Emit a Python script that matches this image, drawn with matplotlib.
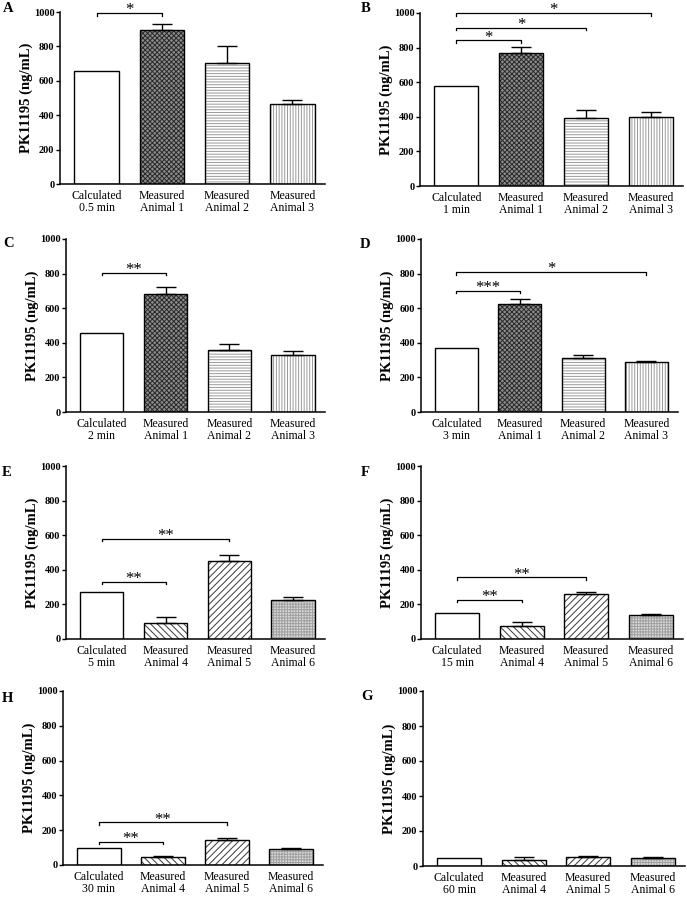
import matplotlib
matplotlib.use('Agg')
import matplotlib.pyplot as plt

# Data
panelLetters = ['A', 'B', 'C', 'D', 'E', 'F', 'H', 'G']
calcTimes = ['0.5 min', '1 min', '2 min', '3 min', '5 min', '15 min', '30 min', '60 min']
animalsTop = ['Animal 1', 'Animal 2', 'Animal 3']
animalsBottom = ['Animal 4', 'Animal 5', 'Animal 6']

meansA = [658, 897, 706, 466]
errA = [0, 31, 95, 25]
meansB = [579, 768, 392, 398]
errB = [0, 33, 48, 27]
meansC = [454, 683, 356, 327]
errC = [0, 42, 38, 27]
meansD = [369, 627, 313, 290]
errD = [0, 29, 15, 3]
meansE = [269, 94, 449, 226]
errE = [0, 31, 39, 16]
meansF = [150, 73, 259, 140]
errF = [0, 23, 14, 6]
meansH = [96, 48, 141, 94]
errH = [0, 4, 12, 4]
meansG = [46, 32, 51, 46]
errG = [0, 18, 6, 5]

# significance: (bar from, bar to, height, label)
sigA = [(0, 1, 994, '*')]
sigB = [(0, 1, 842, '*'), (0, 2, 915, '*'), (0, 3, 1000, '*')]
sigC = [(0, 1, 806, '**')]
sigD = [(0, 1, 701, '***'), (0, 3, 809, '*')]
sigE = [(0, 1, 332, '**'), (0, 2, 580, '**')]
sigF = [(0, 1, 226, '**'), (0, 2, 357, '**')]
sigH = [(0, 1, 134, '**'), (0, 2, 245, '**')]
sigG = []

allMeans = [meansA, meansB, meansC, meansD, meansE, meansF, meansH, meansG]
allErr = [errA, errB, errC, errD, errE, errF, errH, errG]
allSig = [sigA, sigB, sigC, sigD, sigE, sigF, sigH, sigG]

yTicks = [0, 200, 400, 600, 800, 1000]

# Axes boxes in pixels: left, right, top (1000), bottom (0)
W, H = 687, 898
boxes = [(60, 325, 12, 184), (420, 683, 13, 186),
         (66, 325, 239, 412), (421, 678, 239, 412),
         (66, 325, 466, 639), (421, 683, 466, 639),
         (63, 323, 691, 865), (423, 685, 691, 866)]
letterPos = [(3, 9), (361, 9), (3, 243), (360, 244),
             (2, 473), (361, 473), (2, 698), (361, 697)]

# bar styles: (facecolor, hatch, hatchcolor)
stylesTop = [('white', '', 'black'), ('#8c8c8c', 'xxxxxxx', '#2a2a2a'),
             ('white', '------', '#9a9a9a'), ('white', '||||||', '#9a9a9a')]
stylesBottom = [('white', '', 'black'), ('white', '\\\\\\\\\\', '#3a3a3a'),
                ('white', '/////', '#3a3a3a'), ('#d8d8d8', '++++++', '#a0a0a0')]

plt.rcParams['font.family'] = ['Liberation Serif', 'DejaVu Serif']
plt.rcParams['hatch.linewidth'] = 0.7

fig = plt.figure(figsize=(W / 100, H / 100), dpi=100)
barWidth = 0.68
x = [0, 1, 2, 3]

for p in range(8):
    left, right, top, bottom = boxes[p]
    ax = fig.add_axes([left / W, 1 - bottom / H, (right - left) / W, (bottom - top) / H])
    means = allMeans[p]
    errs = allErr[p]
    styles = stylesTop if p < 4 else stylesBottom
    animals = animalsTop if p < 4 else animalsBottom
    for i in range(4):
        fc, hatch, hc = styles[i]
        ax.bar(x[i], means[i], width=barWidth, color=fc, hatch=hatch, edgecolor=hc, linewidth=0, zorder=2)
        ax.bar(x[i], means[i], width=barWidth, fill=False, edgecolor='black', linewidth=1.0, zorder=3)
        if errs[i] > 0:
            ax.errorbar(x[i], means[i], yerr=[[0], [errs[i]]], fmt='none', ecolor='black',
                        elinewidth=1.0, capsize=7.5, capthick=1.0, zorder=4)
    for a, b, yv, lab in allSig[p]:
        ax.plot([x[a], x[a], x[b], x[b]], [yv - 15, yv, yv, yv - 15], color='black', lw=0.9, clip_on=False, zorder=5)
        ax.text((x[a] + x[b]) / 2, yv - 8, lab, ha='center', va='baseline', fontsize=12, clip_on=False)
    ax.set_ylim(0, 1000)
    ax.set_xlim(-0.56, 3.5)
    ax.set_yticks(yTicks)
    ax.set_yticklabels([str(v) for v in yTicks], fontweight='bold', fontsize=7.5)
    ax.set_xticks(x)
    ax.set_xticklabels(['Calculated\n' + calcTimes[p]] + ['Measured\n' + a for a in animals],
                       fontsize=8.5, linespacing=1.1)
    ax.tick_params(axis='x', length=0, pad=4)
    ax.tick_params(axis='y', length=3, width=1.0, pad=1)
    ax.spines['top'].set_visible(False)
    ax.spines['right'].set_visible(False)
    ax.spines['left'].set_linewidth(1.1)
    ax.spines['bottom'].set_linewidth(1.1)
    ax.set_ylabel('PK11195 (ng/mL)', fontsize=10.5, fontweight='bold', labelpad=0.5)
    lx, ly = letterPos[p]
    fig.text(lx / W, 1 - ly / H, panelLetters[p], fontsize=10.5, fontweight='bold', ha='left', va='center')

fig.savefig('out.png', dpi=100)
